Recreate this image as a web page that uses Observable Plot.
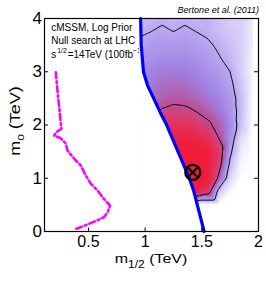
<!DOCTYPE html>
<html><head><meta charset="utf-8">
<script src="https://cdn.jsdelivr.net/npm/d3@7"></script>
<script src="https://cdn.jsdelivr.net/npm/@observablehq/plot@0.6"></script>
<style>body{margin:0;background:#fff}</style>
</head><body><div id="chart"></div>
<script>
// ---- data ----
const xTicks = [0.5, 1, 1.5, 2];
const yTicks = [0, 1, 2, 3, 4];
const xDomain = [0.112, 2];
const yDomain = [0, 4];

// posterior density grid (columns: m1/2 in TeV, rows: m0 in TeV), relative 0..1
const xCols = [0.95, 1.05, 1.15, 1.25, 1.35, 1.45, 1.55, 1.65, 1.75, 1.85, 1.95];
const m0Rows = [4, 3.75, 3.5, 3.25, 3, 2.75, 2.5, 2.25, 2, 1.75, 1.5, 1.25, 1, 0.75, 0.5, 0.25, 0];
const density = [
  [0.15, 0.18, 0.20, 0.18, 0.20, 0.18, 0.20, 0.15, 0.12, 0.12, 0.05],
  [0.20, 0.22, 0.24, 0.22, 0.24, 0.22, 0.20, 0.16, 0.14, 0.12, 0.05],
  [0.25, 0.27, 0.28, 0.28, 0.28, 0.26, 0.24, 0.20, 0.16, 0.12, 0.04],
  [0.30, 0.30, 0.32, 0.32, 0.32, 0.30, 0.27, 0.23, 0.18, 0.12, 0.03],
  [0.33, 0.34, 0.36, 0.37, 0.36, 0.34, 0.30, 0.27, 0.22, 0.12, 0.02],
  [0.35, 0.37, 0.40, 0.41, 0.40, 0.38, 0.34, 0.30, 0.25, 0.14, 0.02],
  [0.38, 0.40, 0.44, 0.46, 0.45, 0.42, 0.38, 0.34, 0.28, 0.16, 0.01],
  [0.42, 0.46, 0.52, 0.55, 0.54, 0.50, 0.44, 0.38, 0.30, 0.16, 0.00],
  [0.50, 0.58, 0.64, 0.67, 0.66, 0.62, 0.54, 0.44, 0.32, 0.15, 0.00],
  [0.60, 0.68, 0.75, 0.80, 0.80, 0.76, 0.68, 0.50, 0.30, 0.08, 0.00],
  [0.70, 0.78, 0.84, 0.88, 0.90, 0.90, 0.84, 0.62, 0.25, 0.04, 0.00],
  [0.75, 0.82, 0.88, 0.92, 0.94, 0.94, 0.88, 0.58, 0.18, 0.02, 0.00],
  [0.78, 0.84, 0.88, 0.92, 0.95, 0.96, 0.88, 0.45, 0.10, 0.00, 0.00],
  [0.70, 0.75, 0.80, 0.84, 0.84, 0.78, 0.62, 0.15, 0.02, 0.00, 0.00],
  [0, 0, 0, 0, 0, 0, 0, 0, 0, 0, 0],
  [0, 0, 0, 0, 0, 0, 0, 0, 0, 0, 0],
  [0, 0, 0, 0, 0, 0, 0, 0, 0, 0, 0]
];
const colorStops = [0, 0.07, 0.2, 0.35, 0.47, 0.6, 0.78, 1];
const colorRange = ["#ffffff", "#e8e3fb", "#bfaff2", "#a082e4", "#b9529f", "#dc3a6c", "#ec2244", "#f2182f"];

// LHC exclusion boundary (blue)
const lhcM0 = [4, 3.5, 3, 2.75, 2.5, 2.25, 2, 1.75, 1.5, 1.25, 1, 0.75, 0.5, 0.25, 0];
const lhcX  = [0.96, 0.965, 0.985, 1.02, 1.075, 1.13, 1.19, 1.24, 1.29, 1.34, 1.39, 1.43, 1.46, 1.49, 1.52];

// magenta dash-dot contour
const nullX  = [0.212, 0.222, 0.232, 0.245, 0.256, 0.262, 0.212, 0.197, 0.256, 0.30, 0.315, 0.373, 0.432, 0.476, 0.52, 0.58, 0.637, 0.69, 0.67, 0.637, 0.58, 0.505, 0.43, 0.388];
const nullM0 = [2.99, 2.75, 2.52, 2.27, 2.03, 1.93, 1.86, 1.80, 1.75, 1.65, 1.52, 1.37, 1.24, 1.05, 0.90, 0.77, 0.61, 0.49, 0.36, 0.27, 0.21, 0.145, 0.08, 0.05];

const bestFitX = [1.42];
const bestFitM0 = [1.11];

const noteLines = ["cMSSM, Log Prior", "Null search at LHC"];
const noteLine3 = ["s", "1/2", "=14TeV (100fb", "\u22121", ")"];
const citation = "Bertone et al. (2011)";
const xLabel = ["m", "1/2", " (TeV)"];
const yLabel = ["m", "0", " (TeV)"];

// ---- tables built from the arrays ----
const grid = m0Rows.flatMap((m0, i) => xCols.map((x, j) => ({x, m0, v: density[i][j]})));
const lhc = lhcM0.map((m0, i) => ({m0, x: lhcX[i]}));
const nullLine = nullM0.map((m0, i) => ({m0, x: nullX[i]}));
const best = bestFitX.map((x, i) => ({x, m0: bestFitM0[i]}));
const gx1 = xCols[0], gx2 = xCols[xCols.length - 1];
const ramp = d3.scaleLinear().domain(colorStops).range(colorRange).clamp(true);

const F = "'Liberation Sans', Arial, Helvetica, sans-serif";

const chart = Plot.plot({
  width: 266, height: 282,
  marginLeft: 44, marginRight: 8, marginTop: 18, marginBottom: 51,
  style: {fontFamily: F, background: "white", color: "black"},
  x: {domain: xDomain},
  y: {domain: yDomain},
  color: {type: "linear", domain: [0, 1], interpolate: t => ramp(t)},
  marks: [
    Plot.raster(grid, {x: "x", y: "m0", fill: "v", interpolate: "barycentric", x1: gx1, x2: gx2, y1: 0, y2: 4}),
    Plot.contour(grid, {x: "x", y: "m0", value: "v", interpolate: "barycentric", x1: gx1, x2: gx2, y1: 0, y2: 4,
      thresholds: [0.22, 0.5], stroke: "black", strokeWidth: 1, fill: "none"}),
    Plot.areaX(lhc, {y: "m0", x1: gx1, x2: "x", fill: "white"}),
    Plot.line(lhc, {x: "x", y: "m0", stroke: "#0000ff", strokeWidth: 3.2}),
    Plot.line(nullLine, {x: "x", y: "m0", stroke: "#ff00ff", strokeWidth: 2.6, strokeDasharray: "6,3,2,3"}),
    Plot.dot(best, {x: "x", y: "m0", r: 7.5, stroke: "black", strokeWidth: 2.2, fill: "none"}),
    Plot.dot(best, {x: "x", y: "m0", symbol: "times", r: 5.2, stroke: "black", strokeWidth: 2.2}),
    Plot.ruleX(xTicks, {x: d => d, y1: yDomain[0], y2: yDomain[0] + 0.065, stroke: "black"}),
    Plot.ruleY(yTicks, {y: d => d, x1: xDomain[0], x2: xDomain[0] + 0.035, stroke: "black"}),
    Plot.ruleY(yTicks, {y: d => d, x1: xDomain[1] - 0.035, x2: xDomain[1], stroke: "black"}),
    Plot.frame({stroke: "black", strokeWidth: 1.2}),
    Plot.axisX({ticks: xTicks, tickSize: 0, tickPadding: 4, fontSize: 16, label: null, tickFormat: d => String(d)}),
    Plot.axisY({ticks: yTicks, tickSize: 0, tickPadding: 2.5, fontSize: 17, label: null, tickFormat: d => String(d)})
  ]
});
document.getElementById("chart").append(chart);

// ---- texts with sub/superscripts ----
const svg = d3.select(chart);
svg.append("text").attr("x", 259).attr("y", 13.3).attr("text-anchor", "end")
  .attr("font-style", "italic").attr("font-size", 9).attr("font-family", F).text(citation);

const notes = svg.insert("g", 'g[aria-label="raster"]').attr("font-size", 11.5)
  .attr("font-family", F).attr("fill", "black").attr("text-anchor", "start");
noteLines.forEach((t, i) => notes.append("text")
  .attr("transform", `translate(51.3,${30.5 + 13.6 * i}) scale(0.87,1)`).text(t));
const l3 = notes.append("text").attr("transform", `translate(51.3,${30.5 + 13.6 * 2}) scale(0.87,1)`);
l3.append("tspan").text(noteLine3[0]);
l3.append("tspan").attr("font-size", 8).attr("dy", -4.5).attr("dx", 1).text(noteLine3[1]);
l3.append("tspan").attr("dy", 4.5).attr("dx", 1).text(noteLine3[2]);
l3.append("tspan").attr("font-size", 8).attr("dy", -4.5).text(noteLine3[3]);
l3.append("tspan").attr("dy", 4.5).text(noteLine3[4]);

const xl = svg.append("text").attr("transform", "translate(151,262.5) scale(1,0.85)")
  .attr("text-anchor", "middle").attr("font-size", 16).attr("font-family", F);
xl.append("tspan").text(xLabel[0]);
xl.append("tspan").attr("font-size", 12).attr("dy", 7).text(xLabel[1]);
xl.append("tspan").attr("dy", -7).text(xLabel[2]);

const yl = svg.append("text").attr("transform", "translate(20,121) rotate(-90) scale(1,0.8)")
  .attr("text-anchor", "middle").attr("font-size", 18).attr("font-family", F);
yl.append("tspan").text(yLabel[0]);
yl.append("tspan").attr("font-size", 12).attr("dy", 5).text(yLabel[1]);
yl.append("tspan").attr("dy", -5).text(yLabel[2]);
</script>
</body></html>
